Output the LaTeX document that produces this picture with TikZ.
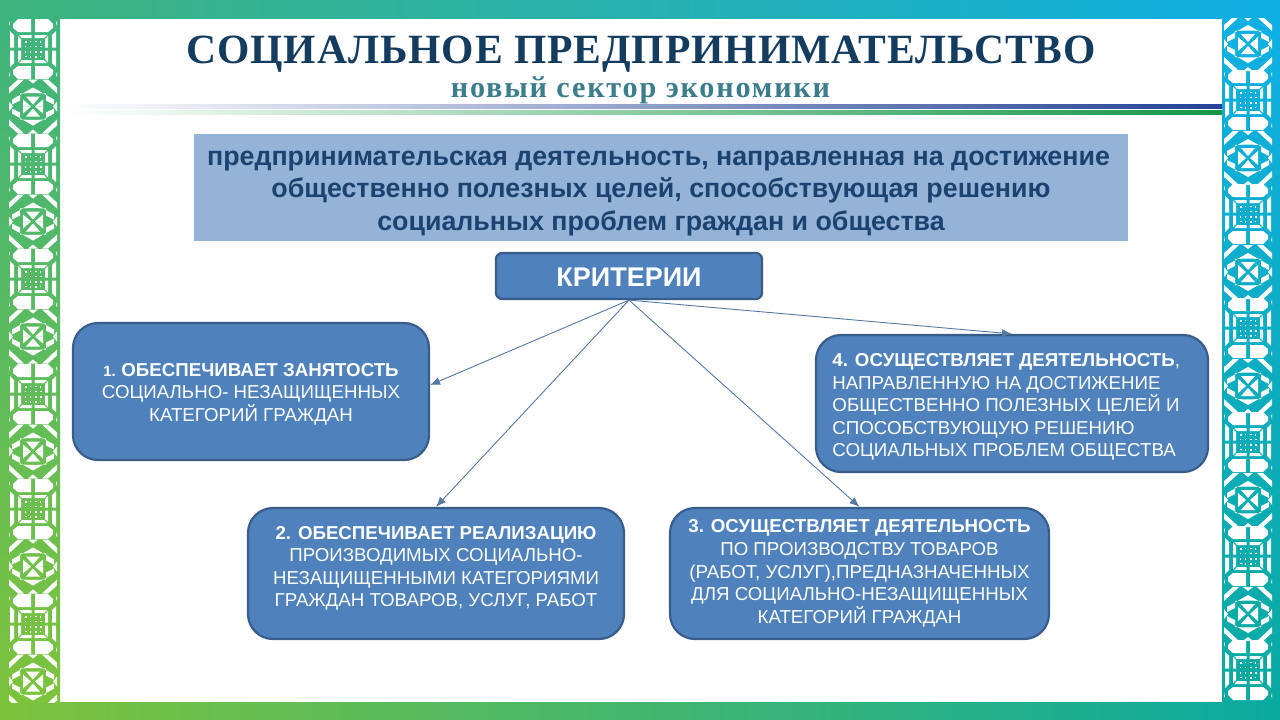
\documentclass[tikz,border=0pt]{standalone}
\usepackage{fontspec}
\usetikzlibrary{arrows.meta}
\setmainfont{Liberation Sans}
\newfontfamily\titlefont[LetterSpace=2.2]{Liberation Serif}
\newfontfamily\subfont[LetterSpace=6]{Liberation Serif}
\definecolor{tl}{RGB}{62,180,125}
\definecolor{tr}{RGB}{15,175,228}
\definecolor{bl}{RGB}{125,195,60}
\definecolor{br}{RGB}{10,170,160}
\definecolor{boxfill}{RGB}{79,129,189}
\definecolor{boxedge}{RGB}{56,93,138}
\definecolor{deffill}{RGB}{149,179,215}
\definecolor{deftext}{RGB}{27,66,112}
\definecolor{titlecol}{RGB}{20,60,95}
\definecolor{subcol}{RGB}{60,125,140}
\definecolor{linkcol}{RGB}{85,120,165}
\definecolor{lineblue}{RGB}{35,65,150}
\definecolor{linegreen}{RGB}{20,150,70}
\definecolor{midblue}{RGB}{120,155,200}
\definecolor{midgreen}{RGB}{130,200,150}
\newcommand{\motifwin}{%
 \foreach \sx in {1,-1}{\foreach \sy in {1,-1}{
 \begin{scope}[xscale=\sx,yscale=\sy]
  \fill[white] (2,-30) -- (15,-30) -- (20,-25) -- (20,-21) -- (15,-17) -- (2,-17) -- cycle;
  \fill[white] (19,-14) -- (23,-18) -- (23,-1.5) -- (19,-1.5) -- cycle;
  \fill[white] (12,-10) -- (15,-13) -- (15,-1.5) -- (12,-1.5) -- cycle;
  \fill[white] (1.5,-14) -- (14,-14) -- (11,-11) -- (1.5,-11) -- cycle;
  \fill[white] (23,-26) -- (24,-28) -- (24,-23) -- cycle;
  \fill[white] (2,-2) rectangle (3.5,-3.5);
  \fill[white] (7,-2) rectangle (8.5,-3.5);
  \fill[white] (2,-7) rectangle (3.5,-8.5);
  \fill[white] (6.5,-6.5) rectangle (8,-8);
 \end{scope}}}}
\newcommand{\motifx}{%
 \foreach \sx in {1,-1}{\foreach \sy in {1,-1}{
 \begin{scope}[xscale=\sx,yscale=\sy]
  \fill[white] (0,-2) -- (0,-10) -- (7,-10) -- cycle;
  \fill[white] (2,0) -- (10,0) -- (10,-7) -- cycle;
  \fill[white] (0,-13.5) -- (0,-19) -- (21,-7) -- (21,-2) -- (13,-6) -- (13,-13) -- cycle;
  \fill[white] (9,-27) -- (15,-27) -- (24,-19) -- (24,-13) -- cycle;
  \fill[white] (0,-27) -- (5,-27) -- (0,-23) -- cycle;
  \fill[white] (24,0) -- (24,-5) -- (20,0) -- cycle;
 \end{scope}}}}
\newcommand{\stripmotifs}[3]{%
 \foreach \k in {0,...,5}{
  \begin{scope}[shift={(#1,#2+#3*\k)}]\motifwin\end{scope}}}
\newcommand{\stripmotifx}[3]{%
 \foreach \k in {0,...,5}{
  \begin{scope}[shift={(#1,#2+#3*\k)}]\motifx\end{scope}}}
\newcommand{\down}[1]{\rule{0pt}{#1pt}}
\newcommand{\up}[1]{\rule[-#1pt]{0pt}{#1pt}}
\tikzset{
 critbox/.style={draw=boxedge,line width=2.2pt,fill=boxfill,rounded corners=25pt,text=white,font=\fontsize{18.7}{22.6}\selectfont,align=center,inner sep=0pt},
 link/.style={draw=linkcol,line width=0.9pt,-{Latex[length=10pt,width=8pt]}}
}
\begin{document}
\begin{tikzpicture}[x=1pt,y=-1pt]
\useasboundingbox (0,0) rectangle (1280,720);
\shade[left color=tl,right color=tr] (0,0) rectangle (1280,18);
\shade[left color=bl,right color=br] (0,702) rectangle (1280,720);
\shade[top color=tl,bottom color=bl] (0,18) rectangle (60,702);
\shade[top color=tr,bottom color=br] (1222,18) rectangle (1280,702);
\begin{scope}
 \clip (0,18) rectangle (60,702);
 \stripmotifs{33}{49}{115}
 \stripmotifx{33}{106.5}{115}
\end{scope}
\begin{scope}
 \clip (1222,18) rectangle (1280,702);
 \stripmotifx{1248}{44}{114}
 \stripmotifs{1248}{100}{114}
\end{scope}
\shade[left color=white,middle color=midblue,right color=lineblue] (62,104) rectangle (1222,108);
\shade[left color=white,middle color=midgreen,right color=linegreen] (62,110) rectangle (1222,114);
\node[text=titlecol,font=\fontsize{41.6}{46}\selectfont\titlefont\bfseries,anchor=center] (title) at (641,54) {СОЦИАЛЬНОЕ ПРЕДПРИНИМАТЕЛЬСТВО};
\node[text=subcol,font=\fontsize{30.2}{32}\selectfont\subfont\bfseries,anchor=center] (sub) at (640.5,90) {новый сектор экономики};
\node[fill=deffill,minimum width=934pt,minimum height=107pt,inner sep=0pt,text=deftext,align=center,font=\fontsize{26.8}{32.5}\selectfont\bfseries] (def) at (661,187.5) {\down{26}предпринимательская деятельность, направленная на достижение\hspace*{5pt}\\общественно полезных целей, способствующая решению\hspace*{4pt}\\социальных проблем граждан и общества};
\node[critbox,rounded corners=6pt,minimum width=266pt,minimum height=46pt,font=\fontsize{27}{30}\selectfont\bfseries] (crit) at (629,276) {\down{21}КРИТЕРИИ};
\node[critbox,minimum width=356pt,minimum height=137pt] (b1) at (251,391.5) {\down{18}{\bfseries\fontsize{15}{20}\selectfont 1. }\textbf{ОБЕСПЕЧИВАЕТ ЗАНЯТОСТЬ}\\СОЦИАЛЬНО- НЕЗАЩИЩЕННЫХ\\КАТЕГОРИЙ ГРАЖДАН};
\node[critbox,minimum width=376pt,minimum height=131pt] (b2) at (436,573.5) {\textbf{2. ОБЕСПЕЧИВАЕТ РЕАЛИЗАЦИЮ}\\ПРОИЗВОДИМЫХ СОЦИАЛЬНО-\\НЕЗАЩИЩЕННЫМИ КАТЕГОРИЯМИ\\ГРАЖДАН ТОВАРОВ, УСЛУГ, РАБОТ\up{14}};
\node[critbox,minimum width=379pt,minimum height=131pt] (b3) at (859.5,573.5) {\textbf{3. ОСУЩЕСТВЛЯЕТ ДЕЯТЕЛЬНОСТЬ}\\ПО ПРОИЗВОДСТВУ ТОВАРОВ\\(РАБОТ, УСЛУГ),ПРЕДНАЗНАЧЕННЫХ\\ДЛЯ СОЦИАЛЬНО-НЕЗАЩИЩЕННЫХ\\КАТЕГОРИЙ ГРАЖДАН};
\node[critbox,minimum width=392pt,minimum height=137pt,align=left] (b4) at (1012,403.5) {\down{20}\textbf{4. ОСУЩЕСТВЛЯЕТ ДЕЯТЕЛЬНОСТЬ},\\НАПРАВЛЕННУЮ НА ДОСТИЖЕНИЕ\\ОБЩЕСТВЕННО ПОЛЕЗНЫХ ЦЕЛЕЙ И\rule{12pt}{0pt}\\СПОСОБСТВУЮЩУЮ РЕШЕНИЮ\\СОЦИАЛЬНЫХ ПРОБЛЕМ ОБЩЕСТВА};
\draw[link] (crit.south) -- ([yshift=6.5pt]b1.east);
\draw[link] (crit.south) -- (b2.north);
\draw[link] (crit.south) -- (b3.north);
\draw[link] (crit.south) -- (b4.north);
\end{tikzpicture}
\end{document}
